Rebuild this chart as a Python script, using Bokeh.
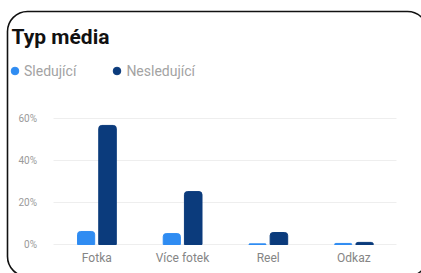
from bokeh.plotting import figure
from bokeh.models import (ColumnDataSource, Range1d, FixedTicker, Legend, LegendItem,
                          BoxAnnotation, CustomJSTickFormatter, Label, Grid)
from bokeh.transform import dodge
from bokeh.embed import file_html
from bokeh.resources import INLINE

categories = ["Fotka", "Více fotek", "Reel", "Odkaz"]
sledujici = [6.2, 5.2, 0.3, 0.5]
nesledujici = [56.7, 25.2, 5.7, 1.0]
series_names = ["Sledující", "Nesledující"]
y_ticks = [0, 20, 40, 60]
title_text = "Typ média"

C1 = "#2F8CF2"
C2 = "#0B3B7C"

idx = list(range(len(categories)))
src = ColumnDataSource(dict(x=idx, cat=categories, s=sledujici, n=nesledujici))

W, H = 421, 273
p = figure(x_range=Range1d(-1.124, 3.789), y_range=Range1d(-13.81, 116.19),
           width=W, height=H, output_backend="svg", toolbar_location=None,
           min_border_left=0, min_border_right=0, min_border_top=0, min_border_bottom=0)
p.background_fill_color = "white"
p.border_fill_color = "white"
p.outline_line_color = None

r1 = p.vbar(x=dodge("x", -0.125), top="s", width=0.2, source=src,
            color=C1, border_radius=(3, 3, 0, 0))
r2 = p.vbar(x=dodge("x", 0.125), top="n", width=0.205, source=src,
            color=C2, border_radius=(3, 3, 0, 0))

d1 = p.scatter(x=[-10], y=[-100], marker="circle", size=8, color=C1)
d2 = p.scatter(x=[-10], y=[-100], marker="circle", size=8, color=C2)

legend = Legend(items=[LegendItem(label=series_names[0], renderers=[d1]),
                       LegendItem(label=series_names[1], renderers=[d2])],
                orientation="horizontal", location=(5, 193), border_line_color=None,
                background_fill_alpha=0, label_text_font="Roboto", label_text_font_size="14px",
                label_text_color="#A3A3A3", glyph_width=19, glyph_height=19, label_height=19,
                label_standoff=-2, spacing=31, padding=0, margin=0)
p.add_layout(legend, "center")

title = Label(x=11, y=H - 36, x_units="screen", y_units="screen", text=title_text,
              text_font="Roboto", text_font_size="21px", text_font_style="bold",
              text_color="#111111", text_baseline="alphabetic")
p.add_layout(title)

p.yaxis.fixed_location = -0.5
p.yaxis.ticker = FixedTicker(ticks=y_ticks)
p.yaxis.formatter = CustomJSTickFormatter(code="return tick + '%';")
p.yaxis.axis_line_color = None
p.yaxis.major_tick_line_color = None
p.yaxis.minor_tick_line_color = None
p.yaxis.major_label_text_color = "#9A9A9A"
p.yaxis.major_label_text_font = "Roboto"
p.yaxis.major_label_text_font_size = "10px"
p.yaxis.major_label_standoff = 11

p.xaxis.fixed_location = 0
p.xaxis.ticker = FixedTicker(ticks=idx)
p.xaxis.major_label_overrides = {i: c for i, c in zip(idx, categories)}
p.xaxis.axis_line_color = None
p.xaxis.major_tick_line_color = None
p.xaxis.minor_tick_line_color = None
p.xaxis.major_label_text_color = "#858585"
p.xaxis.major_label_text_font = "Roboto"
p.xaxis.major_label_text_font_size = "12px"
p.xaxis.major_label_standoff = 1

p.xgrid.grid_line_color = None
p.ygrid.grid_line_color = "#EEEEEE"
p.ygrid.grid_line_width = 1
if "cross_bounds" in Grid.properties():
    p.ygrid.cross_bounds = (-0.5, 3.5)

card = BoxAnnotation(left=7, right=427, top=H - 11, bottom=-3,
                     left_units="screen", right_units="screen",
                     top_units="screen", bottom_units="screen",
                     fill_alpha=0, line_color="#111111", line_alpha=1, line_width=1.6,
                     border_radius=20, level="overlay")
p.add_layout(card)

open("out.html", "w").write(file_html(p, INLINE))
